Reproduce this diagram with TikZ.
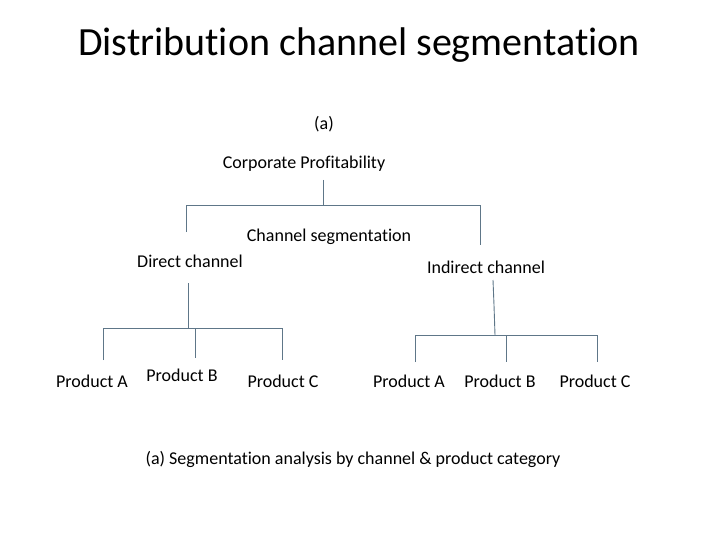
\documentclass[tikz,border=0pt]{standalone}
\usepackage{fontspec}
\setmainfont{Carlito}[Ligatures={NoCommon,NoContextual}]
\begin{document}
\begin{tikzpicture}[x=1pt,y=-1pt,
  lbl/.style={inner sep=0pt,font=\fontsize{18}{21}\selectfont},
  ln/.style={draw=lc,line width=0.9pt}]
\definecolor{lc}{HTML}{5E7688}
\useasboundingbox (0,0) rectangle (720,540);
\node[inner sep=0pt,font=\fontsize{40}{46}\selectfont] (title) at (359,45) {Distribution channel segmentation};
\node[lbl] (a) at (324,124) {(a)};
\node[lbl] (corp) at (304,164) {Corporate Profitability};
\node[lbl] (seg) at (329,237) {Channel segmentation};
\node[lbl] (dir) at (190,261) {Direct channel};
\node[lbl] (ind) at (486,267) {Indirect channel};
\node[lbl] (pa1) at (92,381) {Product A};
\node[lbl] (pb1) at (182,375) {Product B};
\node[lbl] (pc1) at (283,381) {Product C};
\node[lbl] (pa2) at (409,381) {Product A};
\node[lbl] (pb2) at (500,381) {Product B};
\node[lbl] (pc2) at (595,381) {Product C};
\node[lbl] (cap) at (353,459) {(a) Segmentation analysis by channel \& product category};
\coordinate (t0) at (323,180); \coordinate (t1) at (323,205);
\coordinate (hl) at (186,205); \coordinate (hr) at (480,205);
\draw[ln] (t0) -- (t1);
\draw[ln] (186,232) -- (hl) -- (hr) -- (480,245);
\draw[ln] (188,283) -- (188,328);
\draw[ln] (103,360) -- (103,328) -- (282,328) -- (282,360);
\draw[ln] (195,328) -- (195,358);
\draw[ln] (493,280) -- (494,305) -- (495,335);
\draw[ln] (415,362) -- (415,335) -- (597,335) -- (597,362);
\draw[ln] (506,335) -- (506,362);
\end{tikzpicture}
\end{document}
